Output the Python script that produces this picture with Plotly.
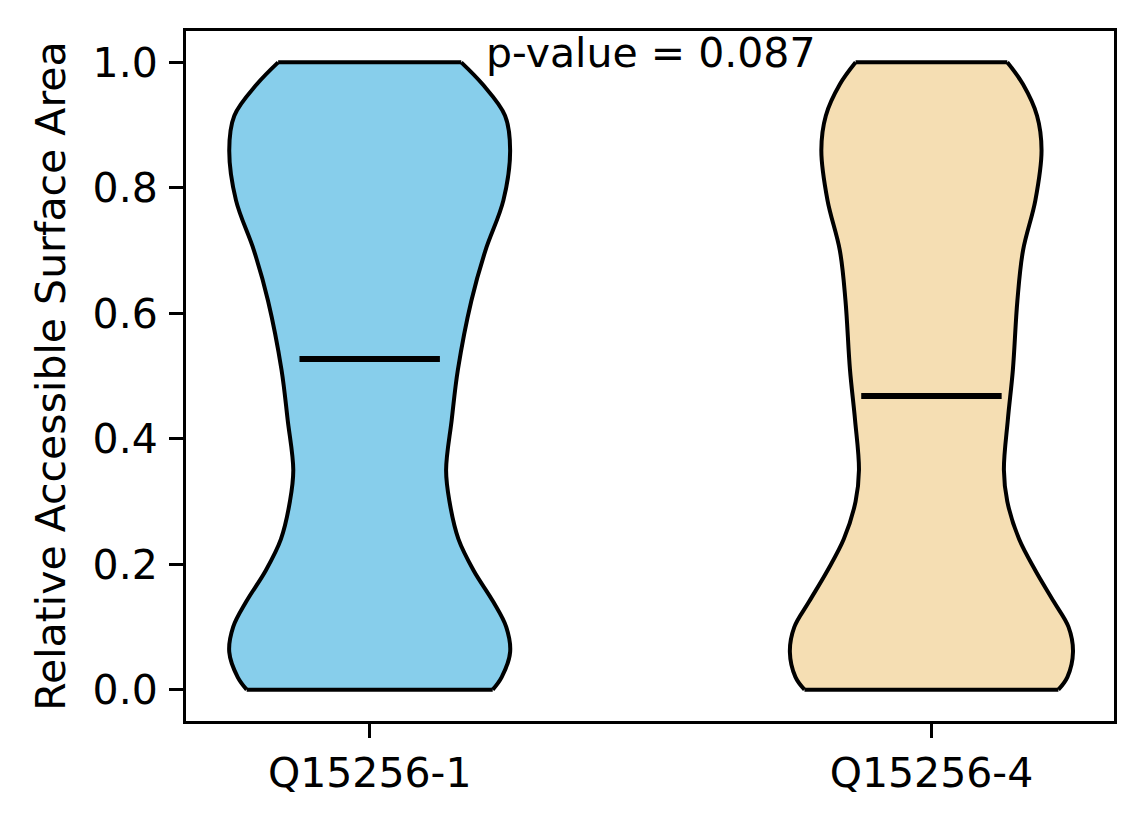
import plotly.graph_objects as go

# isoforms and their positions on the x axis
isoforms = ["Q15256-1", "Q15256-4"]
positions = [1, 2]
fill_colors = ["#87CEEB", "#F5DEB3"]

# RSA levels at which the violin half-widths were read (scaled KDE)
rsa_levels = [0.00, 0.02, 0.06, 0.10, 0.14, 0.19, 0.24, 0.30, 0.35,
              0.43, 0.51, 0.62, 0.70, 0.78, 0.86, 0.915, 0.965, 1.00]
half_width_iso1 = [0.219, 0.235, 0.250, 0.243, 0.220, 0.185, 0.158, 0.142, 0.136,
                   0.146, 0.157, 0.181, 0.206, 0.238, 0.250, 0.241, 0.201, 0.163]
half_width_iso4 = [0.226, 0.242, 0.252, 0.244, 0.218, 0.185, 0.156, 0.135, 0.129,
                   0.136, 0.145, 0.153, 0.163, 0.185, 0.196, 0.188, 0.163, 0.135]
half_widths = [half_width_iso1, half_width_iso4]

medians = [0.527, 0.468]
p_value = 0.087

FONT = "DejaVu Sans"
FS = 41
EDGE = 4
MED_HALF = 0.125

fig = go.Figure()

for pos, hw, col, med in zip(positions, half_widths, fill_colors, medians):
    left = [pos - w for w in hw]
    right = [pos + w for w in hw]
    fig.add_trace(go.Scatter(
        x=left, y=rsa_levels, mode="lines",
        line=dict(color="black", width=EDGE, shape="spline", smoothing=1.0),
        showlegend=False, hoverinfo="skip"))
    fig.add_trace(go.Scatter(
        x=right, y=rsa_levels, mode="lines", fill="tonextx", fillcolor=col,
        line=dict(color="black", width=EDGE, shape="spline", smoothing=1.0),
        showlegend=False, hoverinfo="skip"))
    # flat ends of the violin at min / max
    fig.add_trace(go.Scatter(
        x=[left[0], right[0], None, left[-1], right[-1]],
        y=[rsa_levels[0], rsa_levels[0], None, rsa_levels[-1], rsa_levels[-1]],
        mode="lines", line=dict(color="black", width=EDGE),
        showlegend=False, hoverinfo="skip"))
    # median line
    fig.add_trace(go.Scatter(
        x=[pos - MED_HALF, pos + MED_HALF], y=[med, med],
        mode="lines", line=dict(color="black", width=6),
        showlegend=False, hoverinfo="skip"))

fig.add_annotation(
    x=1.5, y=1.0, xref="x", yref="y",
    text=f"p-value = {p_value}", showarrow=False,
    xanchor="center", yanchor="middle", yshift=9,
    font=dict(family=FONT, size=FS, color="black"))

fig.update_layout(
    width=1144, height=824,
    margin=dict(l=178, r=38, t=23, b=111),
    plot_bgcolor="white", paper_bgcolor="white",
    font=dict(family=FONT, size=FS, color="black"),
    xaxis=dict(
        range=[0.673, 2.325], tickvals=positions, ticktext=isoforms,
        showgrid=False, zeroline=False, automargin=False,
        showline=True, mirror=True, linecolor="black", linewidth=3,
        ticks="outside", ticklen=14, tickwidth=3, tickcolor="black",
        tickfont=dict(family=FONT, size=FS),
    ),
    yaxis=dict(
        range=[-0.05, 1.05], tickvals=[0, 0.2, 0.4, 0.6, 0.8, 1.0],
        tickformat=".1f",
        showgrid=False, zeroline=False, automargin=False,
        showline=True, mirror=True, linecolor="black", linewidth=3,
        ticks="outside", ticklen=14, tickwidth=3, tickcolor="black",
        tickfont=dict(family=FONT, size=FS), ticklabelstandoff=3,
        title=dict(text="Relative Accessible Surface Area",
                   font=dict(family=FONT, size=FS)),
    ),
)

fig.write_html("out.html")
